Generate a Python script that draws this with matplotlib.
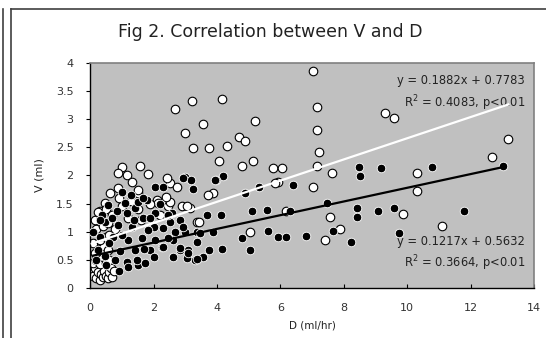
import numpy as np
import matplotlib
matplotlib.use("Agg")
from matplotlib import pyplot as plt
from matplotlib.lines import Line2D
from matplotlib.ticker import FuncFormatter

# Serie blanca (puntos huecos)
white_x = [7.02, 3.21, 4.15, 7.17, 3.55, 5.20, 3.00, 7.17, 9.30, 9.57, 3.26, 3.76, 4.31, 4.71, 4.89,
           7.23, 4.08, 4.78, 5.15, 5.78, 6.05, 7.17, 7.62, 13.19, 12.67, 10.30, 5.94, 7.02, 10.32, 3.89,
           3.73, 9.88, 11.09, 7.57, 7.88, 7.41, 5.05, 6.18, 2.68, 1.02, 1.58, 1.84, 0.89, 1.16, 1.31,
           0.89, 0.63, 1.52, 2.10, 2.37, 2.52, 0.32, 0.47, 2.42, 2.73, 2.47, 2.15, 2.89, 3.15, 3.36,
           1.52, 3.05, 3.42, 5.83, 2.52,
           0.05, 0.10, 0.15, 0.20, 0.25, 0.30, 0.35, 0.40, 0.45, 0.50, 0.55, 0.60, 0.65, 0.70, 0.75,
           0.10, 0.20, 0.30, 0.40, 0.50, 0.60, 0.15, 0.25, 0.35, 0.45, 0.55, 0.10, 0.30, 0.50, 0.20,
           0.40, 0.15, 0.35, 0.55, 0.25, 0.50, 0.70, 0.80, 0.60,
           1.00, 1.30, 1.50, 1.90, 2.20, 1.60, 1.20, 2.40, 0.90]
white_y = [3.86, 3.33, 3.35, 3.22, 2.92, 2.96, 2.75, 2.80, 3.11, 3.02, 2.48, 2.48, 2.52, 2.68, 2.62,
           2.41, 2.26, 2.17, 2.25, 2.13, 2.13, 2.17, 2.04, 2.64, 2.32, 2.05, 1.89, 1.80, 1.73, 1.69,
           1.65, 1.32, 1.10, 1.26, 1.04, 0.85, 1.00, 1.36, 3.18, 2.15, 2.17, 2.03, 2.05, 2.01, 1.89,
           1.77, 1.68, 1.68, 1.56, 1.56, 1.86, 1.36, 1.51, 1.95, 1.80, 1.46, 1.51, 1.45, 1.42, 1.18,
           1.74, 1.45, 1.18, 1.86, 1.53,
           0.30, 0.22, 0.35, 0.18, 0.28, 0.15, 0.25, 0.20, 0.30, 0.22, 0.18, 0.28, 0.35, 0.20, 0.30,
           0.45, 0.50, 0.42, 0.55, 0.45, 0.50, 0.62, 0.70, 0.65, 0.75, 0.68, 0.80, 0.85, 0.90, 1.05,
           1.10, 1.20, 1.25, 1.15, 1.35, 1.40, 1.30, 1.05, 0.95,
           1.45, 1.55, 1.40, 1.50, 1.30, 1.20, 1.25, 1.62, 1.60]

# Serie negra (puntos rellenos)
black_x = [8.49, 8.51, 9.17, 10.78, 13.01, 4.20, 3.97, 6.41, 5.34, 7.46, 8.43, 8.43, 9.09, 9.57, 11.79,
           9.75, 8.22, 7.67, 6.81, 5.94, 6.18, 5.62, 5.57, 5.10, 6.31, 4.78, 5.05, 4.15, 3.89, 4.12,
           3.68, 3.76, 3.57, 3.31, 3.05, 3.36, 3.10, 3.00, 3.17, 3.94, 3.26, 4.89, 2.58, 2.84, 2.68,
           2.99, 3.36, 2.63, 2.84, 3.10, 3.36, 2.94, 3.47, 2.94, 2.52, 2.00,
           2.05, 1.79, 1.42, 0.58, 0.84, 1.16, 1.68, 2.05, 2.47, 0.47, 0.89, 1.31, 1.84, 2.31, 0.73,
           1.21, 1.63, 2.05, 2.47, 0.26, 0.95, 1.42, 1.89, 2.26, 1.16, 1.52, 0.79, 0.47, 0.10, 0.37,
           1.10, 1.52, 2.31, 1.68, 0.32, 1.73, 1.21, 1.47, 2.84, 2.31,
           0.60, 1.00, 1.40, 1.90, 0.30, 2.20, 0.70, 1.00, 1.30, 0.50, 0.20, 0.90, 1.70, 2.00, 2.60]
black_y = [2.15, 1.99, 2.13, 2.15, 2.17, 1.99, 1.92, 1.83, 1.80, 1.51, 1.42, 1.27, 1.36, 1.42, 1.36,
           0.98, 0.82, 1.02, 0.92, 0.90, 0.91, 1.02, 1.39, 1.36, 1.36, 0.88, 0.68, 0.69, 1.00, 1.30,
           1.30, 0.68, 0.55, 0.50, 0.53, 0.82, 0.68, 1.97, 1.91, 1.91, 1.75, 1.69, 1.33, 1.21, 1.00,
           1.00, 1.00, 0.85, 0.68, 0.63, 0.51, 1.95, 0.97, 1.09, 1.18, 1.09,
           1.80, 1.56, 1.42, 1.48, 1.36, 1.33, 1.24, 1.33, 1.30, 1.18, 1.12, 1.09, 1.03, 1.06, 0.91,
           0.85, 0.88, 0.85, 0.88, 0.68, 0.65, 0.68, 0.68, 0.73, 0.47, 0.41, 0.50, 0.56, 1.00, 1.30,
           1.51, 1.53, 1.80, 1.60, 1.21, 0.44, 0.38, 0.50, 0.71, 0.73,
           0.80, 0.95, 1.20, 1.25, 0.90, 1.50, 1.25, 1.70, 1.65, 0.40, 0.50, 0.30, 0.70, 0.55, 0.55]

# Rectas de tendencia (pendiente, ordenada)
white_fit = (0.1882, 0.7783)
black_fit = (0.1217, 0.5632)

titulo = "Fig 2. Correlation between V and D"
eq_white = ["y = 0.1882x + 0.7783", "R$^{2}$ = 0.4083, p<0.01"]
eq_black = ["y = 0.1217x + 0.5632", "R$^{2}$ = 0.3664, p<0.01"]

plt.rcParams['font.family'] = ['DejaVu Sans']

fig = plt.figure(figsize=(5.46, 3.38), dpi=100)
fig.patch.set_facecolor('white')
ax = fig.add_axes([0.165, 0.148, 0.813, 0.666])
ax.set_facecolor('#c0c0c0')

ax.scatter(white_x, white_y, s=38, facecolor='white', edgecolor='black', linewidth=0.8, zorder=2)
ax.scatter(black_x, black_y, s=38, facecolor='black', edgecolor='white', linewidth=0.6, zorder=3)

xw = np.array([min(white_x), max(white_x)])
ax.plot(xw, white_fit[0] * xw + white_fit[1], color='white', lw=1.6, zorder=4)
xb = np.array([min(black_x), max(black_x)])
ax.plot(xb, black_fit[0] * xb + black_fit[1], color='black', lw=1.6, zorder=5)

ax.set_xlim(0, 14)
ax.set_ylim(0, 4)
ax.set_xticks(np.arange(0, 15, 2))
ax.set_yticks(np.arange(0, 4.01, 0.5))
ax.yaxis.set_major_formatter(FuncFormatter(lambda v, p: f"{v:g}"))
ax.tick_params(axis='x', direction='in', length=3, pad=11, labelsize=8, colors='#333333')
ax.tick_params(axis='y', direction='out', length=3, pad=9, labelsize=8, colors='#333333')
ax.tick_params(axis='both', color='black')

for lado in ['top', 'right']:
    ax.spines[lado].set_color('#808080')
    ax.spines[lado].set_linewidth(1.2)
for lado in ['left', 'bottom']:
    ax.spines[lado].set_color('black')
    ax.spines[lado].set_linewidth(1.0)

ax.set_xlabel("D (ml/hr)", fontsize=7.5, color='#222222', labelpad=5)
ax.set_ylabel("V (ml)", fontsize=8, color='#222222', labelpad=8)

ax.text(13.72, 3.68, eq_white[0], ha='right', va='center', fontsize=8.3, color='#222222')
ax.text(13.72, 3.29, eq_white[1], ha='right', va='center', fontsize=8.3, color='#222222')
ax.text(13.72, 0.82, eq_black[0], ha='right', va='center', fontsize=8.3, color='#222222')
ax.text(13.72, 0.44, eq_black[1], ha='right', va='center', fontsize=8.3, color='#222222')

fig.text(0.495, 1 - 32 / 338, titulo, ha='center', va='center', fontsize=12.5, color='#222222')

# Marco del grafico
fig.add_artist(Line2D([2.5 / 546, 2.5 / 546], [0, 1 - 9 / 338], transform=fig.transFigure, color='#404040', lw=1.2))
fig.add_artist(Line2D([11 / 546, 11 / 546], [0, 1 - 9 / 338], transform=fig.transFigure, color='#404040', lw=1.2))
fig.add_artist(Line2D([11 / 546, 1], [1 - 9 / 338, 1 - 9 / 338], transform=fig.transFigure, color='#404040', lw=1.2))

fig.savefig("out.png", dpi=100)
